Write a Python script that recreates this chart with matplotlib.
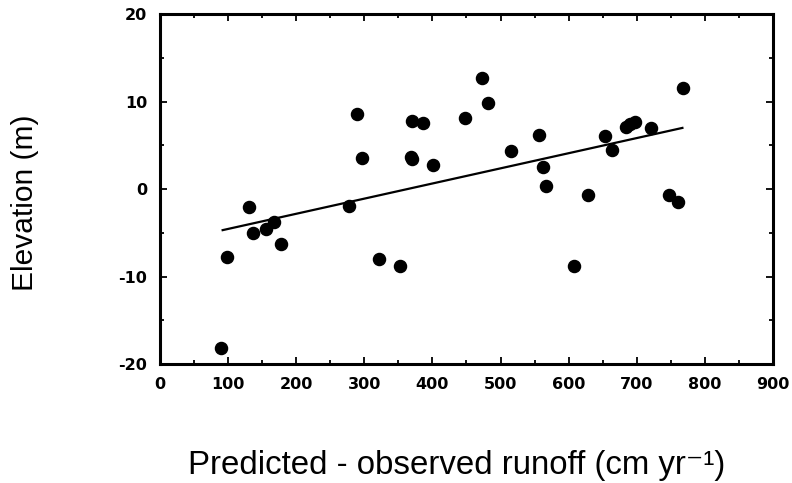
import matplotlib.pyplot as plt
from matplotlib.ticker import MultipleLocator

plt.rcParams['axes.unicode_minus'] = False

# Runoff residuals vs. elevation residuals
runoff_diff = [90, 98, 130, 137, 155, 168, 178, 277, 289, 296, 322, 353,
               370, 386, 368, 370, 401, 448, 473, 482, 516, 557, 563, 567,
               608, 629, 654, 664, 684, 690, 697, 721, 748, 761, 768]
elevation = [-18.2, -7.8, -2.0, -5.0, -4.6, -3.8, -6.3, -1.9, 8.6, 3.6,
             -8.0, -8.8, 7.8, 7.6, 3.7, 3.4, 2.8, 8.1, 12.7, 9.8, 4.3,
             6.2, 2.5, 0.3, -8.8, -0.7, 6.1, 4.5, 7.1, 7.4, 7.7, 7.0,
             -0.7, -1.5, 11.6]

# Least-squares line shown over the data range
fit_intercept = -6.28
fit_slope = 0.0173
fit_x = [92, 767]

fig = plt.figure(figsize=(7.92, 4.83), dpi=100)
ax = fig.add_axes([0.202, 0.246, 0.774, 0.725])

ax.plot(runoff_diff, elevation, 'o', color='black', ms=8.7, mec='black')
fit_y = [fit_intercept + fit_slope * x for x in fit_x]
ax.plot(fit_x, fit_y, color='black', lw=1.6)

ax.set_xlim(0, 900)
ax.set_ylim(-20, 20)
ax.xaxis.set_major_locator(MultipleLocator(100))
ax.xaxis.set_minor_locator(MultipleLocator(50))
ax.yaxis.set_major_locator(MultipleLocator(10))
ax.yaxis.set_minor_locator(MultipleLocator(5))
ax.tick_params(which='both', direction='in', top=True, right=True,
               width=1.3, labelsize=11.5)
ax.tick_params(which='major', length=5, pad=9)
ax.tick_params(which='minor', length=3)
for lbl in ax.get_xticklabels() + ax.get_yticklabels():
    lbl.set_fontweight('heavy')
for sp in ax.spines.values():
    sp.set_linewidth(2.2)

label_font = ['Liberation Sans', 'DejaVu Sans']
ax.set_xlabel('Predicted - observed runoff (cm yr\u207b\u00b9)',
              fontsize=23.8, family=label_font)
ax.set_ylabel('Elevation (m)', fontsize=21.5, family=label_font)
ax.xaxis.set_label_coords(0.4845, -0.245)
ax.yaxis.set_label_coords(-0.198, 0.46)

plt.savefig('out.png', dpi=100)
